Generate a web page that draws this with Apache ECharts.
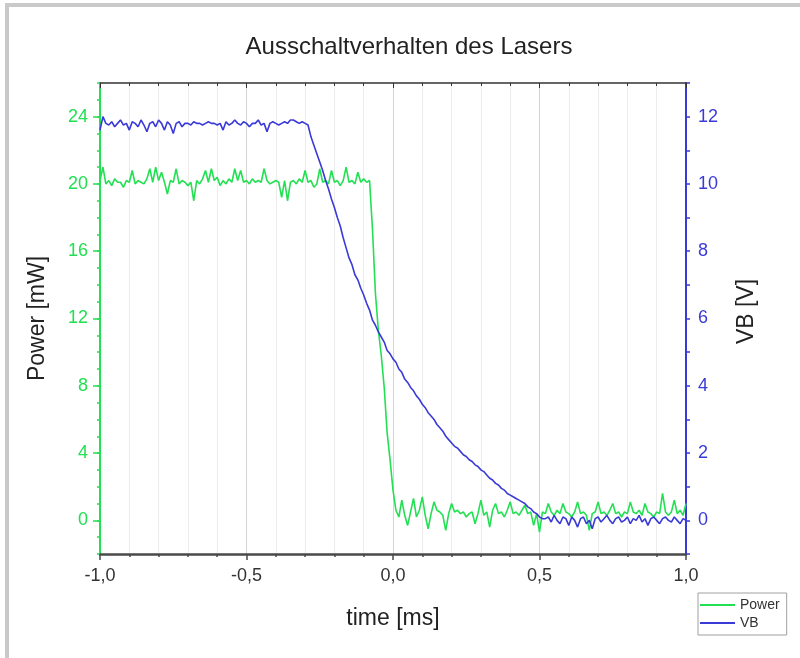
<!DOCTYPE html>
<html>
<head>
<meta charset="utf-8">
<script src="https://cdn.jsdelivr.net/npm/echarts@6/dist/echarts.min.js"></script>
<style>
  html, body { margin: 0; padding: 0; background: #ffffff; }
  #chart { width: 800px; height: 658px; }
</style>
</head>
<body>
<div id="chart"></div>
<script>
// Sample times of the switch-off measurement [ms]
const timeMs = [
  -1.00, -0.99, -0.98, -0.97, -0.96, -0.95, -0.94, -0.93, -0.92, -0.91,
  -0.90, -0.89, -0.88, -0.87, -0.86, -0.85, -0.84, -0.83, -0.82, -0.81,
  -0.80, -0.79, -0.78, -0.77, -0.76, -0.75, -0.74, -0.73, -0.72, -0.71,
  -0.70, -0.69, -0.68, -0.67, -0.66, -0.65, -0.64, -0.63, -0.62, -0.61,
  -0.60, -0.59, -0.58, -0.57, -0.56, -0.55, -0.54, -0.53, -0.52, -0.51,
  -0.50, -0.49, -0.48, -0.47, -0.46, -0.45, -0.44, -0.43, -0.42, -0.41,
  -0.40, -0.39, -0.38, -0.37, -0.36, -0.35, -0.34, -0.33, -0.32, -0.31,
  -0.30, -0.29, -0.28, -0.27, -0.26, -0.25, -0.24, -0.23, -0.22, -0.21,
  -0.20, -0.19, -0.18, -0.17, -0.16, -0.15, -0.14, -0.13, -0.12, -0.11,
  -0.10, -0.09, -0.08, -0.07, -0.06, -0.05, -0.04, -0.03, -0.02, -0.01,
   0.00,  0.01,  0.02,  0.03,  0.04,  0.05,  0.06,  0.07,  0.08,  0.09,
   0.10,  0.11,  0.12,  0.13,  0.14,  0.15,  0.16,  0.17,  0.18,  0.19,
   0.20,  0.21,  0.22,  0.23,  0.24,  0.25,  0.26,  0.27,  0.28,  0.29,
   0.30,  0.31,  0.32,  0.33,  0.34,  0.35,  0.36,  0.37,  0.38,  0.39,
   0.40,  0.41,  0.42,  0.43,  0.44,  0.45,  0.46,  0.47,  0.48,  0.49,
   0.50,  0.51,  0.52,  0.53,  0.54,  0.55,  0.56,  0.57,  0.58,  0.59,
   0.60,  0.61,  0.62,  0.63,  0.64,  0.65,  0.66,  0.67,  0.68,  0.69,
   0.70,  0.71,  0.72,  0.73,  0.74,  0.75,  0.76,  0.77,  0.78,  0.79,
   0.80,  0.81,  0.82,  0.83,  0.84,  0.85,  0.86,  0.87,  0.88,  0.89,
   0.90,  0.91,  0.92,  0.93,  0.94,  0.95,  0.96,  0.97,  0.98,  0.99,
   1.00
];

// Optical output power [mW]
const powerMw = [
  20.2, 21.0, 20.0, 20.2, 19.9, 20.3, 20.1, 20.1, 19.8, 20.2,
  20.1, 20.8, 20.0, 20.2, 20.1, 20.0, 20.3, 20.9, 20.1, 21.0,
  20.2, 20.7, 20.1, 19.4, 20.2, 20.1, 20.9, 20.0, 20.2, 20.1,
  19.9, 20.1, 19.0, 20.2, 20.0, 20.3, 20.8, 20.1, 20.9, 20.2,
  20.4, 19.9, 20.2, 20.0, 20.3, 20.1, 20.9, 20.2, 20.8, 20.1,
  20.2, 20.0, 20.3, 20.1, 20.2, 20.1, 20.9, 20.2, 20.0, 20.1,
  20.2, 20.1, 19.2, 20.2, 19.0, 20.1, 20.2, 20.0, 20.3, 20.1,
  20.8, 20.1, 20.2, 19.8, 20.0, 20.9, 20.1, 20.2, 20.0, 20.8,
  20.1, 20.2, 19.9, 20.2, 21.0, 20.1, 20.2, 20.0, 20.7, 20.1,
  20.3, 20.1, 20.2, 17.3, 13.5, 11.3,  9.8,  7.9,  5.2,  3.6,
   1.8,  0.6,  0.2,  1.2,  0.3, -0.3,  0.5,  1.3,  0.2,  0.6,
   1.4,  0.3, -0.5,  0.4,  1.1,  0.6,  0.5,  0.3, -0.6,  0.4,
   1.0,  0.5,  0.6,  0.4,  0.5,  0.2,  0.4,  0.5, -0.2,  0.4,
   1.2,  0.3,  0.5, -0.4,  0.6,  1.0,  0.4,  0.5,  0.2,  0.6,
   1.1,  0.4,  0.5,  0.3,  0.6,  0.9,  0.4,  0.5, -0.3,  0.4,
  -0.7,  0.5,  0.4,  1.0,  0.5,  0.3,  0.6,  0.4,  1.0,  0.5,
   0.4,  0.2,  0.5,  1.1,  0.4,  0.5,  0.3, -0.6,  0.4,  0.5,
   1.1,  0.4,  0.5,  0.3,  0.6,  1.0,  0.4,  0.5,  0.2,  0.5,
   0.4,  1.1,  0.5,  0.4,  0.6,  0.3,  1.0,  0.5,  0.4,  0.2,
   0.5,  0.4,  1.6,  0.5,  0.3,  0.5,  1.2,  0.4,  0.6,  0.3,
   1.0
];

// Bias voltage VB [V]
const vbVolts = [
  11.6, 12.0, 11.8, 11.75, 11.85, 11.7, 11.8, 11.9, 11.75, 11.8,
  11.6, 11.85, 11.8, 11.7, 11.9, 11.75, 11.55, 11.8, 11.85, 11.7,
  11.9, 11.8, 11.6, 11.85, 11.75, 11.5, 11.8, 11.85, 11.7, 11.8,
  11.8, 11.75, 11.85, 11.8, 11.8, 11.75, 11.8, 11.85, 11.8, 11.8,
  11.75, 11.8, 11.6, 11.85, 11.75, 11.8, 11.9, 11.8, 11.75, 11.85,
  11.8, 11.7, 11.8, 11.8, 11.9, 11.75, 11.8, 11.55, 11.8, 11.85,
  11.8, 11.75, 11.8, 11.85, 11.8, 11.9, 11.9, 11.85, 11.8, 11.85,
  11.8, 11.75, 11.4, 11.15, 10.9, 10.65, 10.4, 10.1, 9.85, 9.55,
  9.3, 9.0, 8.75, 8.4, 8.1, 7.8, 7.6, 7.3, 7.15, 6.9,
  6.7, 6.45, 6.25, 5.95, 5.8, 5.6, 5.45, 5.3, 5.05, 4.95,
  4.8, 4.7, 4.5, 4.4, 4.2, 4.1, 3.95, 3.85, 3.7, 3.6,
  3.45, 3.35, 3.2, 3.1, 3.0, 2.85, 2.75, 2.65, 2.5, 2.4,
  2.3, 2.2, 2.15, 2.05, 1.95, 1.9, 1.8, 1.75, 1.65, 1.6,
  1.5, 1.45, 1.35, 1.25, 1.2, 1.1, 1.05, 0.95, 0.9, 0.8,
  0.75, 0.7, 0.65, 0.6, 0.55, 0.5, 0.4, 0.35, 0.25, 0.2,
  0.1, 0.05, 0.05, 0.1, -0.05, 0.15, 0.0, -0.1, 0.1, 0.05,
  -0.15, 0.1, 0.0, -0.2, 0.05, 0.1, -0.1, 0.0, -0.25, 0.05,
  0.1, -0.05, 0.05, 0.15, 0.0, -0.1, 0.05, 0.1, -0.05, 0.0,
  0.1, -0.1, 0.05, 0.0, 0.15, -0.05, 0.05, -0.15, 0.05, 0.1,
  0.0, -0.1, 0.05, 0.1, 0.0, -0.05, 0.1, 0.0, -0.1, 0.05,
  0.0
];

// Labelled tick values of both y-axes
const powerTicks = [0, 4, 8, 12, 16, 20, 24];
const vbTicks = [0, 2, 4, 6, 8, 10, 12];

const GREEN = '#22e052';
const BLUE = '#3a3ad8';
const INK = '#333333';
const FONT = '"Liberation Sans", Arial, sans-serif';

const powerData = timeMs.map((t, i) => [t, powerMw[i]]);
const vbData = timeMs.map((t, i) => [t, vbVolts[i]]);

const chart = echarts.init(document.getElementById('chart'), null, { renderer: 'canvas' });

chart.setOption({
  backgroundColor: '#ffffff',
  animation: false,
  textStyle: { fontFamily: FONT },
  graphic: [
    { type: 'rect', shape: { x: 5, y: 3, width: 795, height: 4 }, style: { fill: '#c9c9c9' }, silent: true },
    { type: 'rect', shape: { x: 5, y: 3, width: 4, height: 655 }, style: { fill: '#c9c9c9' }, silent: true }
  ],
  title: {
    text: 'Ausschaltverhalten des Lasers',
    left: 409,
    top: 35,
    padding: 0,
    textAlign: 'center',
    textStyle: { fontFamily: FONT, fontSize: 24, fontWeight: 'normal', color: '#222222' }
  },
  legend: {
    orient: 'vertical',
    left: 698,
    top: 593,
    padding: [4, 7, 4, 2],
    itemWidth: 35,
    itemHeight: 2,
    itemGap: 2,
    icon: 'rect',
    borderColor: '#a0a0a0',
    borderWidth: 1,
    backgroundColor: '#ffffff',
    textStyle: { fontFamily: FONT, fontSize: 14, color: INK, lineHeight: 16 },
    data: ['Power', 'VB']
  },
  grid: { left: 100, right: 114, top: 83, bottom: 104, containLabel: false },
  xAxis: [
    {
      type: 'value',
      position: 'bottom',
      min: -1,
      max: 1,
      interval: 0.5,
      axisLine: { show: true, onZero: false, lineStyle: { color: '#4a4a4a', width: 2.5 } },
      axisTick: { show: true, inside: false, length: 6, lineStyle: { color: '#4a4a4a', width: 1.5 } },
      minorTick: { show: true, splitNumber: 5, length: 3, lineStyle: { color: '#4a4a4a', width: 1.5 } },
      axisLabel: {
        fontSize: 18,
        color: INK,
        margin: 13,
        formatter: v => v.toFixed(1).replace('.', ',')
      },
      splitLine: { show: true, lineStyle: { color: '#d4d4d4', width: 1 } },
      minorSplitLine: { show: true, lineStyle: { color: '#ececec', width: 1 } },
      name: 'time [ms]',
      nameLocation: 'middle',
      nameGap: 53,
      nameTextStyle: { fontSize: 23, color: '#222222' }
    },
    {
      type: 'value',
      position: 'top',
      min: -1,
      max: 1,
      interval: 0.5,
      axisLine: { show: true, onZero: false, lineStyle: { color: '#333333', width: 1.5 } },
      axisTick: { show: true, inside: true, length: 5, lineStyle: { color: '#333333' } },
      minorTick: { show: true, splitNumber: 5, length: 3, lineStyle: { color: '#333333' } },
      axisLabel: { show: false },
      splitLine: { show: false }
    }
  ],
  yAxis: [
    {
      type: 'value',
      position: 'left',
      min: -2,
      max: 26,
      interval: 2,
      axisLine: { show: true, onZero: false, lineStyle: { color: GREEN, width: 2 } },
      axisTick: { show: true, customValues: powerTicks, length: 7, lineStyle: { color: GREEN, width: 1.5 } },
      axisLabel: {
        customValues: powerTicks,
        fontSize: 18,
        color: GREEN,
        margin: 12,
        formatter: v => (v % 4 === 0 && v >= 0 ? String(v) : '')
      },
      splitLine: { show: false },
      name: 'Power [mW]',
      nameLocation: 'middle',
      nameRotate: 90,
      nameGap: 51,
      nameTextStyle: { fontSize: 23, color: '#222222' }
    },
    {
      type: 'value',
      position: 'right',
      min: -1,
      max: 13,
      interval: 1,
      axisLine: { show: true, onZero: false, lineStyle: { color: BLUE, width: 2 } },
      axisTick: { show: true, length: 4, lineStyle: { color: BLUE, width: 1.5 } },
      axisLabel: {
        customValues: vbTicks,
        fontSize: 18,
        color: BLUE,
        margin: 12,
        formatter: v => (v % 2 === 0 && v >= 0 ? String(v) : '')
      },
      splitLine: { show: false },
      name: 'VB [V]',
      nameLocation: 'middle',
      nameRotate: 90,
      nameGap: 49,
      nameTextStyle: { fontSize: 23, color: '#222222', padding: [0, 0, 0, 14] }
    },
    {
      // minor ticks of the power axis (every 1 mW)
      type: 'value',
      position: 'left',
      offset: 0,
      min: -2,
      max: 26,
      interval: 1,
      axisLine: { show: false, onZero: false },
      axisTick: { show: true, length: 3, lineStyle: { color: GREEN, width: 1.5 } },
      axisLabel: { show: false },
      splitLine: { show: false }
    }
  ],
  series: [
    {
      name: 'Power',
      type: 'line',
      xAxisIndex: 0,
      yAxisIndex: 0,
      data: powerData,
      showSymbol: false,
      symbol: 'none',
      color: GREEN,
      lineStyle: { color: GREEN, width: 1.6 },
      z: 3
    },
    {
      name: 'VB',
      type: 'line',
      xAxisIndex: 0,
      yAxisIndex: 1,
      data: vbData,
      showSymbol: false,
      symbol: 'none',
      color: BLUE,
      lineStyle: { color: BLUE, width: 1.6 },
      z: 4
    }
  ]
});
</script>
</body>
</html>
